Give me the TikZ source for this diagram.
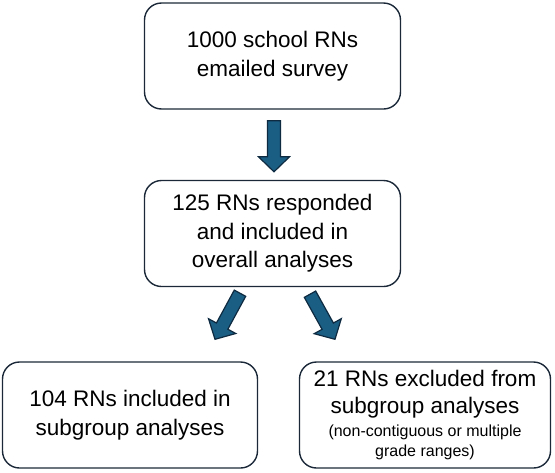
\documentclass[tikz,border=0pt]{standalone}
\usepackage{fontspec}
\setmainfont{Liberation Sans}
\usetikzlibrary{calc}
\definecolor{boxline}{HTML}{1B2838}
\definecolor{arrowfill}{HTML}{1A5E84}
\definecolor{arrowline}{HTML}{0E2A40}
\newcommand{\smalltext}{\fontsize{16}{20}\selectfont}
\begin{document}
\begin{tikzpicture}[grow=down, x=1pt, y=1pt,
level 1/.style={level distance=177.5pt},
level 2/.style={level distance=181.5pt, sibling distance=295pt},
edge from parent/.style={draw=none},
flowbox/.style={draw=boxline, line width=1.4pt, rounded corners=17pt,
  minimum width=256pt, minimum height=106pt, align=center,
  font=\fontsize{22.5}{28.5}\selectfont},
fat arrow/.style={fill=arrowfill, draw=arrowline, line width=1.2pt, line join=miter}]
\useasboundingbox (0,0) rectangle (555,-472);
\node[flowbox] (mailed) at (272.5,-56) {1000 school RNs\\emailed survey}
    child { node[flowbox] (resp) {125 RNs responded\\and included in\\overall analyses}
        child { node[flowbox, xshift=5pt, minimum width=255pt] (incl) {104 RNs included in\\subgroup analyses} }
        child { node[flowbox, xshift=5pt, minimum width=251pt] (excl) {21 RNs excluded from\\[-1.5pt]subgroup analyses\\[-6pt]
            \smalltext (non-contiguous or multiple\\[-8.5pt]
            \smalltext grade ranges)} }
    };
% block arrows between the boxes
\coordinate (t1) at ($(mailed.south)+(1.5,-11)$);
\coordinate (h1) at ($(resp.north)+(1.5,8)$);
\coordinate (t2) at ($(resp.south)+(-32.5,-6)$);
\coordinate (h2) at ($(incl.north)+(85,22)$);
\coordinate (t3) at ($(resp.south)+(37.5,-7)$);
\coordinate (h3) at ($(excl.north)+(-90,22)$);
\foreach \tail/\tip in {t1/h1, t2/h2, t3/h3} {
    \path ($(\tip)!15pt!(\tail)$) coordinate (hb);
    \draw[fat arrow] ($(\tail)!6.5pt!90:(\tip)$) -- ($(hb)!6.5pt!90:(\tip)$)
        -- ($(hb)!15.5pt!90:(\tip)$) -- (\tip) -- ($(hb)!15.5pt!-90:(\tip)$)
        -- ($(hb)!6.5pt!-90:(\tip)$) -- ($(\tail)!6.5pt!-90:(\tip)$) -- cycle;
}
\end{tikzpicture}
\end{document}
